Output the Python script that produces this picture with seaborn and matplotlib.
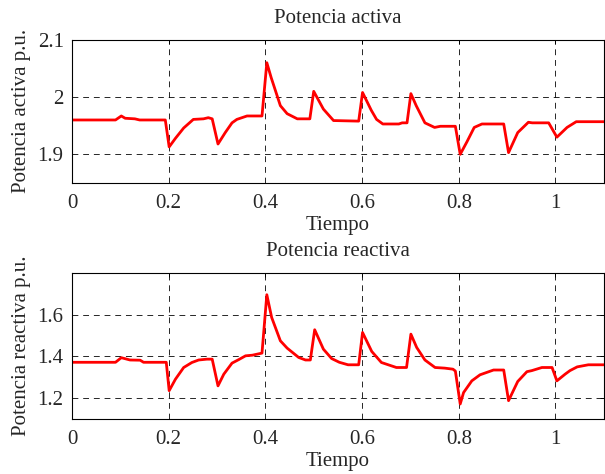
import matplotlib
matplotlib.use("Agg")
import matplotlib.pyplot as plt
import seaborn as sns
from matplotlib.ticker import FormatStrFormatter

# datos
t_activa = [0, 0.09, 0.102, 0.11, 0.13, 0.14, 0.193, 0.201, 0.214, 0.231, 0.251,
            0.272, 0.282, 0.29, 0.302, 0.317, 0.331, 0.341, 0.362, 0.393, 0.403,
            0.412, 0.431, 0.445, 0.466, 0.492, 0.5, 0.52, 0.541, 0.593, 0.601,
            0.619, 0.63, 0.643, 0.676, 0.683, 0.693, 0.701, 0.712, 0.73, 0.75,
            0.762, 0.793, 0.803, 0.817, 0.832, 0.848, 0.893, 0.903, 0.922, 0.944,
            0.952, 0.986, 1.003, 1.024, 1.043, 1.1]
p_activa = [1.96, 1.96, 1.967, 1.963, 1.962, 1.96, 1.96, 1.913, 1.928, 1.946, 1.961,
            1.962, 1.964, 1.962, 1.918, 1.938, 1.955, 1.961, 1.967, 1.967, 2.06,
            2.034, 1.985, 1.971, 1.962, 1.962, 2.01, 1.979, 1.959, 1.958, 2.008,
            1.977, 1.961, 1.953, 1.953, 1.955, 1.955, 2.006, 1.985, 1.955, 1.947,
            1.949, 1.949, 1.90, 1.922, 1.947, 1.953, 1.953, 1.903, 1.938, 1.956,
            1.955, 1.955, 1.930, 1.947, 1.957, 1.957]

t_reactiva = [0, 0.09, 0.102, 0.12, 0.141, 0.148, 0.195, 0.201, 0.214, 0.231,
              0.248, 0.262, 0.279, 0.29, 0.302, 0.314, 0.331, 0.345, 0.359, 0.373,
              0.393, 0.403, 0.413, 0.431, 0.445, 0.469, 0.483, 0.493, 0.502, 0.52,
              0.537, 0.553, 0.571, 0.593, 0.601, 0.62, 0.64, 0.671, 0.692, 0.701,
              0.713, 0.73, 0.751, 0.771, 0.788, 0.793, 0.803, 0.81, 0.827, 0.844,
              0.872, 0.893, 0.903, 0.922, 0.941, 0.951, 0.972, 0.993, 1.003, 1.02,
              1.03, 1.045, 1.068, 1.1]
q_reactiva = [1.372, 1.372, 1.394, 1.383, 1.382, 1.372, 1.372, 1.236, 1.291, 1.347,
              1.371, 1.383, 1.387, 1.387, 1.259, 1.315, 1.368, 1.385, 1.403, 1.406,
              1.416, 1.696, 1.587, 1.475, 1.44, 1.395, 1.383, 1.383, 1.528, 1.435,
              1.39, 1.372, 1.36, 1.36, 1.515, 1.424, 1.371, 1.347, 1.347, 1.507,
              1.443, 1.383, 1.347, 1.344, 1.339, 1.33, 1.172, 1.227, 1.283, 1.312,
              1.335, 1.335, 1.188, 1.28, 1.327, 1.332, 1.347, 1.347, 1.283, 1.315,
              1.332, 1.35, 1.36, 1.36]

x_ticks = [0, 0.2, 0.4, 0.6, 0.8, 1]
y_ticks_p = [1.9, 2.0, 2.1]
y_ticks_q = [1.2, 1.4, 1.6]

sns.set_style("white")
plt.rcParams['font.family'] = ['Liberation Serif', 'DejaVu Serif']
plt.rcParams['font.size'] = 15

fig = plt.figure(figsize=(6.05, 4.74), dpi=100)
ax1 = fig.add_axes([0.119, 0.614, 0.879, 0.302])
ax2 = fig.add_axes([0.119, 0.116, 0.879, 0.308])


def dibujar(ax, t, v, yticks, ylim, titulo, ylabel):
    sns.lineplot(x=t, y=v, ax=ax, color='red', linewidth=2.0, sort=False)
    ax.set_xlim(0, 1.1)
    ax.set_ylim(*ylim)
    ax.set_xticks(x_ticks)
    ax.set_yticks(yticks)
    ax.xaxis.set_major_formatter(FormatStrFormatter('%g'))
    ax.yaxis.set_major_formatter(FormatStrFormatter('%g'))
    ax.grid(True, color='black', linestyle=(0, (6, 5)), linewidth=0.7, alpha=0.85)
    ax.tick_params(direction='in', top=True, right=True, length=3, width=0.7,
                   labelsize=15, color='black')
    ax.tick_params(axis='x', pad=8)
    ax.tick_params(axis='y', pad=6)
    for s in ax.spines.values():
        s.set_color('black')
        s.set_linewidth(0.8)
    ax.set_title(titulo, fontsize=15, pad=12)
    ax.set_xlabel('Tiempo', fontsize=15, labelpad=2)
    ax.set_ylabel(ylabel, fontsize=15, labelpad=5)


dibujar(ax1, t_activa, p_activa, y_ticks_p, (1.85, 2.1),
        'Potencia activa', 'Potencia activa p.u.')
dibujar(ax2, t_reactiva, q_reactiva, y_ticks_q, (1.1, 1.8),
        'Potencia reactiva', 'Potencia reactiva p.u.')

fig.savefig('out.png', dpi=100)
